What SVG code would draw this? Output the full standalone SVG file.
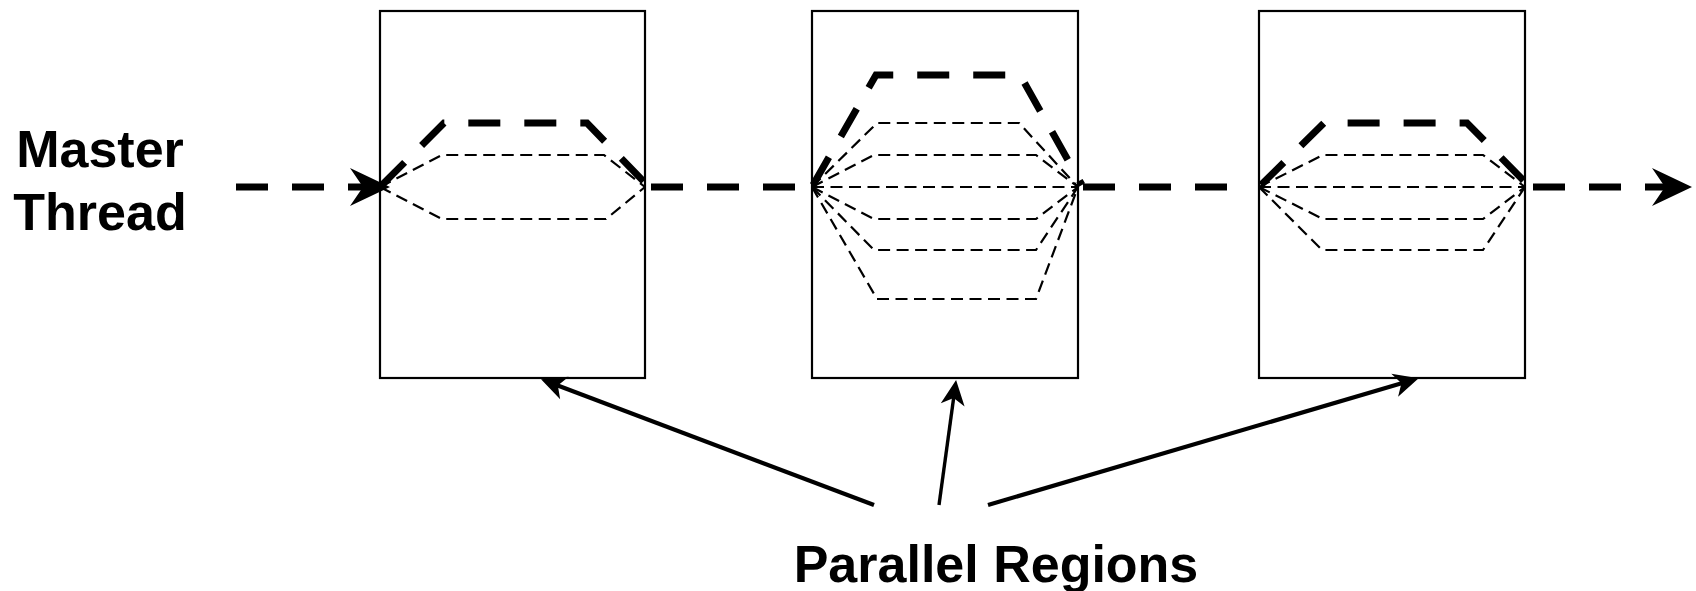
<svg xmlns="http://www.w3.org/2000/svg" width="1696" height="591" viewBox="0 0 1696 591">
<style>
.box{fill:#fff;stroke:#000;stroke-width:2.2}
.main{fill:none;stroke:#000;stroke-width:7;stroke-dasharray:32 24}
.thick{fill:none;stroke:#000;stroke-width:7;stroke-dasharray:32 24;stroke-linejoin:miter}
.thin{fill:none;stroke:#000;stroke-width:2.2;stroke-dasharray:12 6.5}
.ptr{fill:none;stroke:#000;stroke-width:4.2}
.lbl{font-family:"Liberation Sans",Arial,sans-serif;font-weight:bold;font-size:52px;fill:#000;text-anchor:middle}
</style>
<defs>
<marker id="big" viewBox="-32 -20 44 40" markerWidth="44" markerHeight="40" refX="0" refY="0" markerUnits="userSpaceOnUse" orient="auto">
<path d="M10,0 L-30,-19 L-17,0 L-30,19 Z" fill="#000"/>
</marker>
<marker id="small" viewBox="-20 -13 30 26" markerWidth="30" markerHeight="26" refX="0" refY="0" markerUnits="userSpaceOnUse" orient="auto">
<path d="M8,0 L-17,-12 L-10,0 L-17,12 Z" fill="#000"/>
</marker>
</defs>
<g id="region1">
<rect class="box" x="380" y="11" width="265" height="367"/>
</g>
<g id="region2">
<rect class="box" x="812" y="11" width="266" height="367"/>
</g>
<g id="region3">
<rect class="box" x="1259" y="11" width="266" height="367"/>
</g>
<g id="label-master">
<text class="lbl" x="100" y="167">Master</text>
<text class="lbl" x="100" y="230">Thread</text>
</g>
<g id="label-parallel">
<text class="lbl" x="996" y="582">Parallel Regions</text>
</g>
<g id="connectors">
<path class="main" d="M236,187 L380,187" marker-end="url(#big)"/>
<path class="main" d="M651,187 L811,187"/>
<path class="main" d="M1083,187 L1250,187"/>
<path class="main" d="M1533,187 L1682,187" marker-end="url(#big)"/>
<path class="thin" d="M380,187 L442,155 L604,155 L645,187"/>
<path class="thin" d="M380,187 L442,219 L606,219 L645,187"/>
<path class="thick" d="M382,185 L444,123 L587,123 L647,185"/>
<path class="thin" d="M812,187 L877,123 L1019,123 L1078,187"/>
<path class="thin" d="M812,187 L874,155 L1036,155 L1078,187"/>
<path class="thin" d="M812,187 L1078,187"/>
<path class="thin" d="M812,187 L874,219 L1036,219 L1078,187"/>
<path class="thin" d="M812,187 L874,250 L1036,250 L1078,187"/>
<path class="thin" d="M812,187 L877,299 L1036,299 L1078,187"/>
<path class="thick" d="M813,185 L876,75 L1020,75 L1082,185"/>
<path class="thin" d="M1259,187 L1323,155 L1483,155 L1525,187"/>
<path class="thin" d="M1259,187 L1525,187"/>
<path class="thin" d="M1259,187 L1323,219 L1483,219 L1525,187"/>
<path class="thin" d="M1259,187 L1322,250 L1483,250 L1525,187"/>
<path class="thick" d="M1261,185 L1324,123 L1467,123 L1528,185"/>
<path class="ptr" d="M874,505 L548.5,382" marker-end="url(#small)"/>
<path class="ptr" style="stroke-width:3.4" d="M939,505 L955,388" marker-end="url(#small)"/>
<path class="ptr" d="M988,505 L1411,380.5" marker-end="url(#small)"/>
</g>
</svg>
